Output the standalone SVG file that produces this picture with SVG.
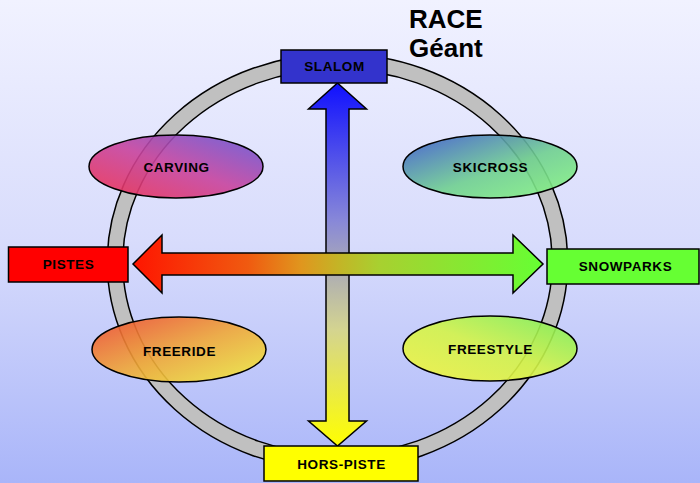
<svg xmlns="http://www.w3.org/2000/svg" width="700" height="483" viewBox="0 0 700 483">
<defs>
<linearGradient id="bg" x1="0" y1="0" x2="0" y2="1">
<stop offset="0" stop-color="#f1f2ff"/>
<stop offset="0.5" stop-color="#d8dcfc"/>
<stop offset="1" stop-color="#a9b5f9"/>
</linearGradient>
<linearGradient id="gv" gradientUnits="userSpaceOnUse" x1="0" y1="83" x2="0" y2="446">
<stop offset="0" stop-color="#1010ff"/>
<stop offset="0.38" stop-color="#8888d8"/>
<stop offset="0.5" stop-color="#a8a8b8"/>
<stop offset="0.68" stop-color="#d4d490"/>
<stop offset="1" stop-color="#ffff00"/>
</linearGradient>
<linearGradient id="gh" gradientUnits="userSpaceOnUse" x1="133" y1="0" x2="543" y2="0">
<stop offset="0" stop-color="#ff1500"/>
<stop offset="0.28" stop-color="#f05a10"/>
<stop offset="0.41" stop-color="#e0961e"/>
<stop offset="0.5" stop-color="#c4b426"/>
<stop offset="0.6" stop-color="#a8d030"/>
<stop offset="1" stop-color="#66ff33"/>
</linearGradient>
<linearGradient id="gCarving" x1="0" y1="1" x2="1" y2="0">
<stop offset="0" stop-color="#f0304e"/>
<stop offset="0.5" stop-color="#c8449e"/>
<stop offset="1" stop-color="#6258d8"/>
</linearGradient>
<linearGradient id="gSkicross" x1="0" y1="0" x2="1" y2="1">
<stop offset="0" stop-color="#3a54d0"/>
<stop offset="0.55" stop-color="#70d090"/>
<stop offset="1" stop-color="#88f880"/>
</linearGradient>
<linearGradient id="gFreeride" x1="0" y1="0" x2="1" y2="1">
<stop offset="0" stop-color="#f04a30"/>
<stop offset="0.5" stop-color="#f0a838"/>
<stop offset="1" stop-color="#f0f040"/>
</linearGradient>
<linearGradient id="gFreestyle" x1="0" y1="1" x2="1" y2="0">
<stop offset="0" stop-color="#f4f440"/>
<stop offset="0.5" stop-color="#d4f448"/>
<stop offset="1" stop-color="#78f058"/>
</linearGradient>
</defs>
<style>
.box{stroke:#000;stroke-width:1.5}
.ell{stroke:#000;stroke-width:1.5;fill-opacity:0.9}
.arr{stroke:#000;stroke-width:1.5;stroke-linejoin:miter}
.lbl{font-family:"Liberation Sans",Arial,sans-serif;font-weight:bold;font-size:13.5px;letter-spacing:0.6px;text-anchor:middle;fill:#000}
.title{font-family:"Liberation Sans",Arial,sans-serif;font-weight:bold;font-size:26px;fill:#000}
</style>
<rect x="0" y="0" width="700" height="483" fill="url(#bg)"/>
<g id="ring">
<ellipse cx="337.5" cy="262" rx="222.5" ry="200.5" fill="none" stroke="#000" stroke-width="17"/>
<ellipse cx="337.5" cy="262" rx="222.5" ry="200.5" fill="none" stroke="#c0c0c0" stroke-width="14"/>
</g>
<g id="connectors">
<polygon class="arr" fill="url(#gv)" points="337.5,83 366.5,109 349,109 349,421 366.5,421 337.5,446 308.5,421 326,421 326,109 308.5,109"/>
<polygon class="arr" fill="url(#gh)" points="133,264 162,235 162,253 513,253 513,235 543,264 513,293 513,275 162,275 162,293"/>
</g>
<g id="carving">
<ellipse class="ell" cx="176" cy="166.5" rx="87" ry="31.5" fill="url(#gCarving)"/>
<text class="lbl" x="176.5" y="171.5">CARVING</text>
</g>
<g id="skicross">
<ellipse class="ell" cx="490" cy="166.5" rx="87" ry="31.5" fill="url(#gSkicross)"/>
<text class="lbl" x="490.5" y="171.5">SKICROSS</text>
</g>
<g id="freeride">
<ellipse class="ell" cx="179" cy="349.5" rx="87" ry="32.5" fill="url(#gFreeride)"/>
<text class="lbl" x="179.5" y="355.5">FREERIDE</text>
</g>
<g id="freestyle">
<ellipse class="ell" cx="490" cy="348.5" rx="87" ry="32.5" fill="url(#gFreestyle)"/>
<text class="lbl" x="490.5" y="353.5">FREESTYLE</text>
</g>
<g id="slalom">
<rect class="box" x="281" y="50" width="106" height="33" fill="#3333cc"/>
<text class="lbl" x="334.5" y="71">SLALOM</text>
</g>
<g id="pistes">
<rect class="box" x="8.5" y="247" width="119.5" height="35" fill="#ff0000"/>
<text class="lbl" x="68.5" y="269">PISTES</text>
</g>
<g id="snowparks">
<rect class="box" x="547" y="249" width="152" height="35" fill="#66ff33"/>
<text class="lbl" x="625.5" y="271">SNOWPARKS</text>
</g>
<g id="hors-piste">
<rect class="box" x="264" y="446" width="154" height="35" fill="#ffff00"/>
<text class="lbl" x="341.5" y="468.5">HORS-PISTE</text>
</g>
<g id="race">
<text class="title" x="409" y="28">RACE</text>
<text class="title" x="409" y="57">Géant</text>
</g>
</svg>
